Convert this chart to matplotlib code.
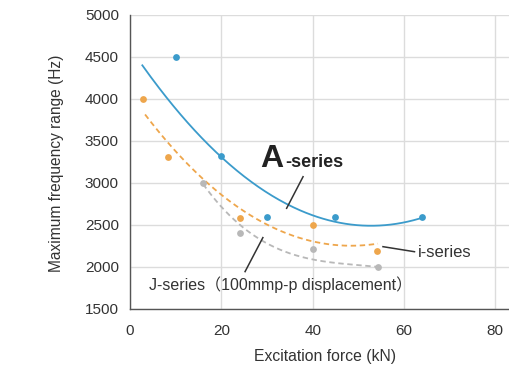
import numpy as np
import matplotlib
matplotlib.use("Agg")
import matplotlib.pyplot as plt

# ---- data ----
a_x = [10, 20, 30, 45, 64]
a_y = [4500, 3320, 2590, 2590, 2590]
i_x = [2.8, 8.3, 24, 40, 54.2]
i_y = [4000, 3310, 2580, 2500, 2190]
j_x = [16, 24, 40, 54.3]
j_y = [3000, 2400, 2220, 1995]

# trend curves (x, y samples)
a_trend_x = [2.7, 8, 20.1, 28.4, 35, 43.7, 52.5, 64.2]
a_trend_y = [4417, 3988, 3325, 2940, 2725, 2560, 2485, 2592]
i_trend_x = [3.3, 8.4, 14.2, 20, 24.2, 31.3, 39.7, 48.1, 54.3]
i_trend_y = [3810, 3473, 3155, 2877, 2679, 2440, 2321, 2274, 2265]
j_trend_x = [16, 23, 24, 31.3, 39.7, 48.1, 54.3]
j_trend_y = [2985, 2599, 2460, 2242, 2103, 2024, 2004]

x_ticks = [0, 20, 40, 60, 80]
y_ticks = [1500, 2000, 2500, 3000, 3500, 4000, 4500, 5000]

blue = "#3b9bcb"
orange = "#eea64c"
gray = "#b8b8b8"

plt.rcParams['font.family'] = ['Liberation Sans', 'Noto Sans CJK JP', 'DejaVu Sans']

fig = plt.figure(figsize=(5.09, 3.70), dpi=100)
ax = fig.add_axes([130/509, 61/370, 379/509, 294/370])
ax.set_xlim(0, 83)
ax.set_ylim(1500, 5000)
ax.set_xticks(x_ticks)
ax.set_yticks(y_ticks)
ax.grid(True, color="#dcdcdc", linewidth=1.0)
ax.set_axisbelow(True)
for s in ["top", "right"]:
    ax.spines[s].set_visible(False)
for s in ["left", "bottom"]:
    ax.spines[s].set_color("#555555")
    ax.spines[s].set_linewidth(1.0)
ax.tick_params(length=0, labelsize=11, colors="#333333")
ax.tick_params(axis="y", pad=8)
ax.tick_params(axis="x", pad=11)

def fit(xs, ys, deg):
    c = np.polyfit(xs, ys, deg)
    xx = np.linspace(min(xs), max(xs), 200)
    return xx, np.polyval(c, xx)

xx, yy = fit(a_trend_x, a_trend_y, 3)
ax.plot(xx, yy, color=blue, lw=1.3, zorder=3)
xx, yy = fit(i_trend_x, i_trend_y, 3)
ax.plot(xx, yy, color=orange, lw=1.3, dashes=(3, 2), zorder=3)
xx, yy = fit(j_trend_x, j_trend_y, 3)
ax.plot(xx, yy, color=gray, lw=1.3, dashes=(3, 2), zorder=3)

ax.scatter(a_x, a_y, s=24, color=blue, zorder=4, linewidths=0)
ax.scatter(i_x, i_y, s=24, color=orange, zorder=4, linewidths=0)
ax.scatter(j_x, j_y, s=24, color=gray, zorder=4, linewidths=0)

# annotations
lc = "#333333"
ax.plot([37.9, 34.3], [3075, 2699], color=lc, lw=1.1, zorder=5)
ax.text(28.6, 3194, "A", fontsize=23, fontweight="bold", color="#222222",
        ha="left", va="baseline", zorder=6)
ax.text(34.0, 3194, "-series", fontsize=13, fontweight="bold", color="#222222",
        ha="left", va="baseline", zorder=6)

ax.plot([55.4, 62.3], [2242, 2182], color=lc, lw=1.1, zorder=5)
ax.text(63.0, 2171, "i-series", fontsize=12, color="#333333", ha="left", va="center")

ax.plot([29.1, 25.2], [2350, 1945], color=lc, lw=1.1, zorder=5)
ax.text(4.2, 1786, "J-series（100mmp-p displacement）", fontsize=11.5, color="#333333",
        ha="left", va="center")

fig.text(57/509, 1 - 163/370, "Maximum frequency range (Hz)", rotation=90,
         fontsize=11.2, color="#333333", ha="center", va="center")
fig.text(325/509, 1 - 357/370, "Excitation force (kN)", fontsize=11.3,
         color="#333333", ha="center", va="center")

fig.savefig("out.png", dpi=100)
